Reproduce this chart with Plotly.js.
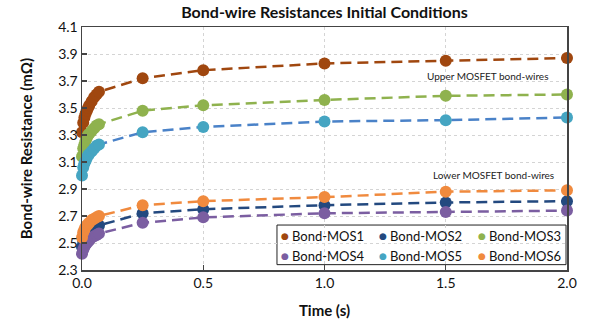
<!DOCTYPE html>
<html>
<head>
<meta charset="utf-8">
<script src="https://cdn.plot.ly/plotly-3.0.1.min.js"></script>
<style>html,body{margin:0;padding:0;background:#fff}#chart{width:590px;height:322px}</style>
</head>
<body>
<div id="chart"></div>
<script>
const time = [0, 0.005, 0.01, 0.015, 0.02, 0.025, 0.03, 0.04, 0.05, 0.06, 0.07, 0.25, 0.5, 1.0, 1.5, 2.0];
const seriesNames = ["Bond-MOS1", "Bond-MOS2", "Bond-MOS3", "Bond-MOS4", "Bond-MOS5", "Bond-MOS6"];
const mos1 = [3.32, 3.39, 3.43, 3.46, 3.48, 3.50, 3.52, 3.55, 3.58, 3.60, 3.62, 3.72, 3.78, 3.83, 3.85, 3.87];
const mos2 = [2.47, 2.51, 2.53, 2.55, 2.56, 2.57, 2.58, 2.60, 2.61, 2.62, 2.63, 2.72, 2.75, 2.78, 2.80, 2.81];
const mos3 = [3.14, 3.20, 3.23, 3.26, 3.28, 3.30, 3.31, 3.33, 3.35, 3.37, 3.38, 3.48, 3.52, 3.56, 3.59, 3.60];
const mos4 = [2.42, 2.45, 2.47, 2.49, 2.50, 2.51, 2.52, 2.54, 2.55, 2.56, 2.57, 2.65, 2.69, 2.72, 2.73, 2.74];
const mos5 = [3.00, 3.06, 3.09, 3.11, 3.13, 3.15, 3.16, 3.18, 3.20, 3.22, 3.23, 3.32, 3.36, 3.40, 3.41, 3.43];
const mos6 = [2.54, 2.58, 2.60, 2.62, 2.63, 2.64, 2.65, 2.67, 2.68, 2.69, 2.70, 2.78, 2.81, 2.84, 2.88, 2.89];
const yTicks = [2.3, 2.5, 2.7, 2.9, 3.1, 3.3, 3.5, 3.7, 3.9, 4.1];
const xTicks = [0.0, 0.5, 1.0, 1.5, 2.0];

const values = [mos1, mos2, mos3, mos4, mos5, mos6];
const markerColors = ["#A0470F", "#23497F", "#8FB24E", "#7B5EA1", "#45A5C2", "#F08A3E"];
const lineColors   = ["#A0470F", "#23497F", "#8FB24E", "#7B5EA1", "#4A82C8", "#F08A3E"];
const FONT = "Lato, 'Open Sans', sans-serif";

const traces = values.map((v, i) => ({
  x: time, y: v, type: "scatter", mode: "lines+markers",
  name: seriesNames[i], showlegend: false, cliponaxis: false,
  line: {color: lineColors[i], width: 2.5, dash: "11px,6px"},
  marker: {color: markerColors[i], size: 12}
}));

// Legend (boxed, 3 columns x 2 rows) built as annotations in paper coordinates
const legX = [0.418, 0.620, 0.824];   // dot positions per column
const legY = [0.140, 0.058];          // row centres
const annotations = [
  {x: 1.674, y: 3.735, xref: "x", yref: "y", text: "Upper MOSFET bond-wires", showarrow: false,
   font: {family: FONT, size: 10, color: "#222"}},
  {x: 1.695, y: 3.005, xref: "x", yref: "y", text: "Lower MOSFET bond-wires", showarrow: false,
   font: {family: FONT, size: 10, color: "#222"}}
];
seriesNames.forEach((n, i) => {
  const cx = legX[i % 3], cy = legY[Math.floor(i / 3)];
  annotations.push({x: cx, y: cy, xref: "paper", yref: "paper", text: "●", showarrow: false,
    xanchor: "center", yanchor: "middle", font: {family: "DejaVu Sans", size: 9, color: markerColors[i]}});
  annotations.push({x: cx + 0.011, y: cy, xref: "paper", yref: "paper", text: n, showarrow: false,
    xanchor: "left", yanchor: "middle", font: {family: FONT, size: 13, color: "#111"}});
});

const layout = {
  width: 590, height: 322,
  margin: {l: 82, r: 23, t: 27, b: 52},
  paper_bgcolor: "#fff", plot_bgcolor: "#fff",
  font: {family: FONT, size: 14, color: "#111"},
  showlegend: false,
  title: {text: "<b>Bond-wire Resistances Initial Conditions</b>",
          font: {family: FONT, size: 16, color: "#111"},
          x: 0.5, xref: "paper", y: 0.962, yref: "container", yanchor: "middle"},
  xaxis: {
    range: [0, 2], tickvals: xTicks, ticktext: xTicks.map(t => t.toFixed(1)),
    ticks: "inside", ticklen: 5, tickcolor: "#444", tickwidth: 1.2,
    showline: true, linecolor: "#444", linewidth: 1.5, mirror: true,
    showgrid: true, gridcolor: "#d4d4d4", griddash: "dot", gridwidth: 1,
    zeroline: false, tickfont: {family: FONT, size: 14, color: "#111"},
    title: {text: "<b>Time (s)</b>", font: {family: FONT, size: 15, color: "#111"}, standoff: 15}
  },
  yaxis: {
    range: [2.3, 4.1], tickvals: yTicks, ticktext: yTicks.map(t => t.toFixed(1)),
    ticks: "inside", ticklen: 5, tickcolor: "#444", tickwidth: 1.2,
    showline: true, linecolor: "#444", linewidth: 1.5, mirror: true,
    showgrid: true, gridcolor: "#d4d4d4", griddash: "dot", gridwidth: 1,
    zeroline: false, tickfont: {family: FONT, size: 14, color: "#111"},
    title: {text: "<b>Bond-wire Resistance (mΩ)</b>", font: {family: FONT, size: 15, color: "#111"}, standoff: 22}
  },
  shapes: [{
    type: "rect", xref: "paper", yref: "paper", layer: "between",
    x0: 0.402, x1: 0.998, y0: 0.022, y1: 0.185,
    line: {color: "#222", width: 1}, fillcolor: "#fff"
  }],
  annotations: annotations
};

Plotly.newPlot("chart", traces, layout, {displayModeBar: false, staticPlot: true});
</script>
</body>
</html>
